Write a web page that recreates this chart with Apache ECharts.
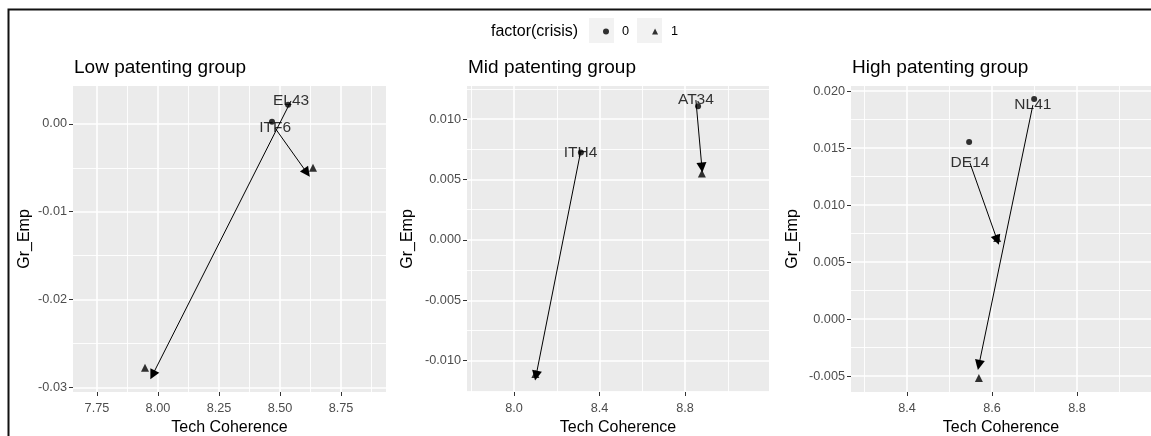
<!DOCTYPE html>
<html><head><meta charset="utf-8">
<script src="https://cdn.jsdelivr.net/npm/echarts@6/dist/echarts.min.js"></script>
<style>html,body{margin:0;padding:0;background:#fff}#c{width:1151px;height:436px}</style>
</head><body><div id="c"></div>
<script>
// ---------- DATA ----------
const panelTitles = ['Low patenting group', 'Mid patenting group', 'High patenting group'];
const xTicks = [[7.75, 8.0, 8.25, 8.5, 8.75], [8.0, 8.4, 8.8], [8.4, 8.6, 8.8]];
const xTickLabels = [['7.75', '8.00', '8.25', '8.50', '8.75'], ['8.0', '8.4', '8.8'], ['8.4', '8.6', '8.8']];
const yTicks = [[0, -0.01, -0.02, -0.03], [0.01, 0.005, 0, -0.005, -0.01], [0.02, 0.015, 0.01, 0.005, 0, -0.005]];
const yTickLabels = [['0.00', '-0.01', '-0.02', '-0.03'], ['0.010', '0.005', '0.000', '-0.005', '-0.010'], ['0.020', '0.015', '0.010', '0.005', '0.000', '-0.005']];
const xRange = [[7.652, 8.934], [7.78, 9.193], [8.268, 8.974]];
const yRange = [[-0.0305, 0.0043], [-0.0126, 0.01275], [-0.0064, 0.02044]];

const regions = ['EL43', 'ITF6', 'AT34', 'ITH4', 'NL41', 'DE14'];
const regionGroup = [0, 0, 1, 1, 2, 2];
// crisis = 0 (circles)
const preX = [8.533, 8.467, 8.861, 8.313, 8.699, 8.546];
const preY = [0.00216, 0.00023, 0.01108, 0.00725, 0.0193, 0.01553];
// crisis = 1 (triangles)
const postX = [7.947, 8.635, 8.879, 8.100, 8.569, 8.612];
const postY = [-0.02773, -0.0050, 0.0055, -0.0111, -0.00518, 0.0071];
// arrow start (label position) and arrow end
const arrowFromX = [8.545, 8.480, 8.851, 8.311, 8.696, 8.548];
const arrowFromY = [0.0026, -0.0005, 0.01158, 0.00725, 0.01877, 0.01368];
const arrowToX = [7.978, 8.610, 8.879, 8.103, 8.569, 8.612];
const arrowToY = [-0.02855, -0.00557, 0.0060, -0.01125, -0.00403, 0.00693];

const legendTitle = 'factor(crisis)';
const legendNames = ['0', '1'];

// ---------- LAYOUT ----------
const grids = [
  { left: 73, top: 86, width: 313, height: 306 },
  { left: 467, top: 86, width: 302, height: 306 },
  { left: 851, top: 86, width: 300, height: 306 }
];
const yNameGap = [40, 51, 50];

function minors(ticks, range) {
  const s = [...ticks].sort((a, b) => a - b);
  const step = s[1] - s[0];
  const out = [];
  for (let v = s[0] - step / 2; v <= range[1] + 1e-12; v += step) {
    if (v >= range[0] - 1e-12) out.push(+v.toFixed(6));
  }
  return out;
}
function lookup(ticks, labels, v) {
  for (let k = 0; k < ticks.length; k++) if (Math.abs(ticks[k] - v) < 1e-9) return labels[k];
  return '';
}

const FONT = 'Liberation Sans, Arial, sans-serif';
const xAxes = [], yAxes = [], series = [], titles = [];

for (let g = 0; g < 3; g++) {
  titles.push({
    text: panelTitles[g], left: grids[g].left + 1, top: 58,
    textStyle: { fontFamily: FONT, fontSize: 19, fontWeight: 'normal', color: '#000' }, padding: 0
  });
  xAxes.push({
    type: 'value', gridIndex: g, min: xRange[g][0], max: xRange[g][1],
    name: 'Tech Coherence', nameLocation: 'middle', nameGap: 26,
    nameTextStyle: { fontFamily: FONT, fontSize: 16, color: '#000' },
    axisLine: { show: false, onZero: false },
    axisTick: { show: true, customValues: xTicks[g], length: 4, lineStyle: { color: '#333', width: 1 } },
    axisLabel: { customValues: xTicks[g], margin: 10, fontFamily: FONT, fontSize: 12.7, color: '#4D4D4D',
      formatter: (v) => lookup(xTicks[g], xTickLabels[g], v) },
    splitLine: { show: false }
  });
  yAxes.push({
    type: 'value', gridIndex: g, min: yRange[g][0], max: yRange[g][1],
    name: 'Gr_Emp', nameLocation: 'middle', nameGap: yNameGap[g],
    nameTextStyle: { fontFamily: FONT, fontSize: 16, color: '#000' },
    axisLine: { show: false, onZero: false },
    axisTick: { show: true, customValues: yTicks[g], length: 4, lineStyle: { color: '#333', width: 1 } },
    axisLabel: { customValues: yTicks[g], margin: 6, fontFamily: FONT, fontSize: 12.7, color: '#4D4D4D',
      formatter: (v) => lookup(yTicks[g], yTickLabels[g], v) },
    splitLine: { show: false }
  });

  // grid lines drawn through the axes' scales
  const xr = xRange[g], yr = yRange[g];
  const minorLines = [], majorLines = [];
  minors(xTicks[g], xr).forEach(v => minorLines.push({ coords: [[v, yr[0]], [v, yr[1]]] }));
  minors(yTicks[g], yr).forEach(v => minorLines.push({ coords: [[xr[0], v], [xr[1], v]] }));
  xTicks[g].forEach(v => majorLines.push({ coords: [[v, yr[0]], [v, yr[1]]] }));
  yTicks[g].forEach(v => majorLines.push({ coords: [[xr[0], v], [xr[1], v]] }));
  series.push({
    type: 'lines', coordinateSystem: 'cartesian2d', xAxisIndex: g, yAxisIndex: g, z: 2, silent: true,
    symbol: ['none', 'none'], lineStyle: { color: '#FFFFFF', width: 0.9, opacity: 1 }, data: minorLines
  });
  series.push({
    type: 'lines', coordinateSystem: 'cartesian2d', xAxisIndex: g, yAxisIndex: g, z: 2, silent: true,
    symbol: ['none', 'none'], lineStyle: { color: '#FFFFFF', width: 1.6, opacity: 1 }, data: majorLines
  });

  const idx = regions.map((r, i) => i).filter(i => regionGroup[i] === g);
  series.push({
    type: 'lines', coordinateSystem: 'cartesian2d', xAxisIndex: g, yAxisIndex: g, z: 3, silent: true,
    symbol: ['none', 'triangle'], symbolSize: [9, 10],
    lineStyle: { color: '#000', width: 1, opacity: 1 },
    data: idx.map(i => ({ coords: [[arrowFromX[i], arrowFromY[i]], [arrowToX[i], arrowToY[i]]] }))
  });
  series.push({
    name: legendNames[0], type: 'scatter', xAxisIndex: g, yAxisIndex: g, z: 4, silent: true,
    symbol: 'circle', symbolSize: 6, itemStyle: { color: '#000' },
    data: idx.map(i => [preX[i], preY[i]])
  });
  series.push({
    name: legendNames[1], type: 'scatter', xAxisIndex: g, yAxisIndex: g, z: 4, silent: true,
    symbol: 'triangle', symbolSize: 8, itemStyle: { color: '#000' },
    data: idx.map(i => [postX[i], postY[i]])
  });
  series.push({
    type: 'scatter', xAxisIndex: g, yAxisIndex: g, z: 5, silent: true,
    symbol: 'circle', symbolSize: 1, itemStyle: { color: 'rgba(0,0,0,0)' },
    label: { show: true, position: 'inside', fontFamily: FONT, fontSize: 15.5, color: '#000',
      formatter: (p) => p.value[2] },
    data: idx.map(i => [arrowFromX[i], arrowFromY[i], regions[i]])
  });
}

const option = {
  animation: false,
  backgroundColor: '#FFFFFF',
  title: titles,
  grid: grids.map(g => Object.assign({ show: true, z: 0, backgroundColor: '#EBEBEB', borderWidth: 0,
    containLabel: false, outerBoundsMode: 'none' }, g)),
  xAxis: xAxes,
  yAxis: yAxes,
  legend: {
    data: [{ name: legendNames[0], icon: 'circle' }, { name: legendNames[1], icon: 'triangle' }],
    left: 598, top: 20, itemWidth: 6, itemHeight: 6, itemGap: 23, selectedMode: false,
    textStyle: { fontFamily: FONT, fontSize: 12.7, color: '#000', padding: [0, 0, 0, 8] }
  },
  graphic: [
    { type: 'rect', shape: { x: 8.5, y: 9.5, width: 1200, height: 500 }, style: { fill: 'none', stroke: '#111', lineWidth: 2 }, silent: true },
    { type: 'rect', shape: { x: 589, y: 18, width: 25, height: 25 }, style: { fill: '#F2F2F2' }, silent: true, z: -1 },
    { type: 'rect', shape: { x: 637, y: 18, width: 25, height: 25 }, style: { fill: '#F2F2F2' }, silent: true, z: -1 },
    { type: 'text', x: 491, y: 32, style: { text: legendTitle, fontFamily: FONT, fontSize: 16, fill: '#000', verticalAlign: 'middle', align: 'left' }, silent: true }
  ],
  series: series
};
const chart = echarts.init(document.getElementById('c'), null, { renderer: 'canvas' });
chart.setOption(option);
</script></body></html>
